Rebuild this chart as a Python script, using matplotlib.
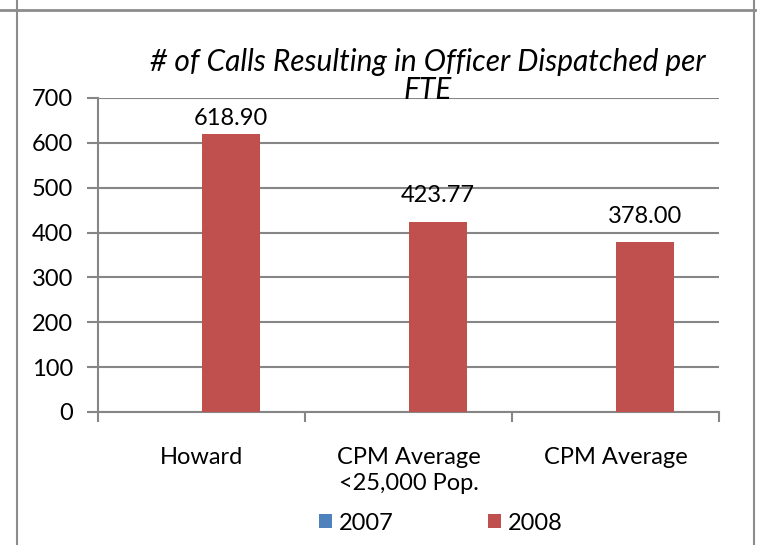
import matplotlib
matplotlib.use('Agg')
import matplotlib.pyplot as plt
from matplotlib.lines import Line2D
import numpy as np

# data
categories = ['Howard', 'CPM Average\n<25,000 Pop.', 'CPM Average']
vals_2007 = [0, 0, 0]
vals_2008 = [618.90, 423.77, 378.00]
series_names = ['2007', '2008']
title = '# of Calls Resulting in Officer Dispatched per\nFTE'

plt.rcParams['font.family'] = ['Lato', 'DejaVu Sans']

fig = plt.figure(figsize=(7.57, 5.45), dpi=100)
ax = fig.add_axes([98/757, 133/545, 621/757, 314/545])

x = np.arange(len(categories))
w = 0.285
grid_c = '#868686'
b1 = ax.bar(x - w/2, vals_2007, w, color='#4F81BD', label=series_names[0])
b2 = ax.bar(x + w/2, vals_2008, w, color='#C0504D', label=series_names[1], zorder=3)

# labels sit above the bars but are held inside the plot area (like Excel)
for xi, v in zip(x, vals_2008):
    ax.text(xi + w/2, min(v + 35, 631), f'{v:.2f}', ha='center', va='bottom',
            fontsize=17, zorder=4)

ax.set_xlim(-0.5, 2.5)
ax.set_ylim(0, 700)
ax.set_yticks(range(0, 701, 100))
ax.yaxis.grid(True, color=grid_c, linewidth=1.5)
ax.set_axisbelow(True)
for s in ['top', 'right']:
    ax.spines[s].set_visible(False)
ax.spines['left'].set_color(grid_c)
ax.spines['bottom'].set_color(grid_c)
ax.spines['left'].set_linewidth(1.5)
ax.spines['bottom'].set_linewidth(1.5)
ax.tick_params(axis='y', labelsize=17, color=grid_c, width=1.5, length=8, pad=10)
ax.set_xticks(x)
ax.set_xticklabels(categories, fontsize=17, linespacing=1.3)
ax.tick_params(axis='x', which='major', length=0, pad=25)
ax.set_xticks([-0.5, 0.5, 1.5, 2.5], minor=True)
ax.tick_params(axis='x', which='minor', length=7, color=grid_c, width=1.5)

fig.text(428/757, 1 - 76/545, title, ha='center', va='center', fontsize=21.5,
         style='italic', linespacing=1.0)

leg = fig.legend(handles=[b1, b2], loc='center', bbox_to_anchor=(441/757, 1 - 523/545),
                 ncol=2, frameon=False, fontsize=17, handlelength=0.55, handleheight=0.55,
                 handletextpad=0.3, columnspacing=4.0)

# outer frame
fc = '#8C8C8C'
fig.add_artist(Line2D([0, 1], [1 - 10/545] * 2, color=fc, lw=2, transform=fig.transFigure))
fig.add_artist(Line2D([17/757] * 2, [0, 1], color=fc, lw=1.5, transform=fig.transFigure))
fig.add_artist(Line2D([754/757] * 2, [0, 1], color=fc, lw=1.5, transform=fig.transFigure))

fig.savefig('out.png', dpi=100)
